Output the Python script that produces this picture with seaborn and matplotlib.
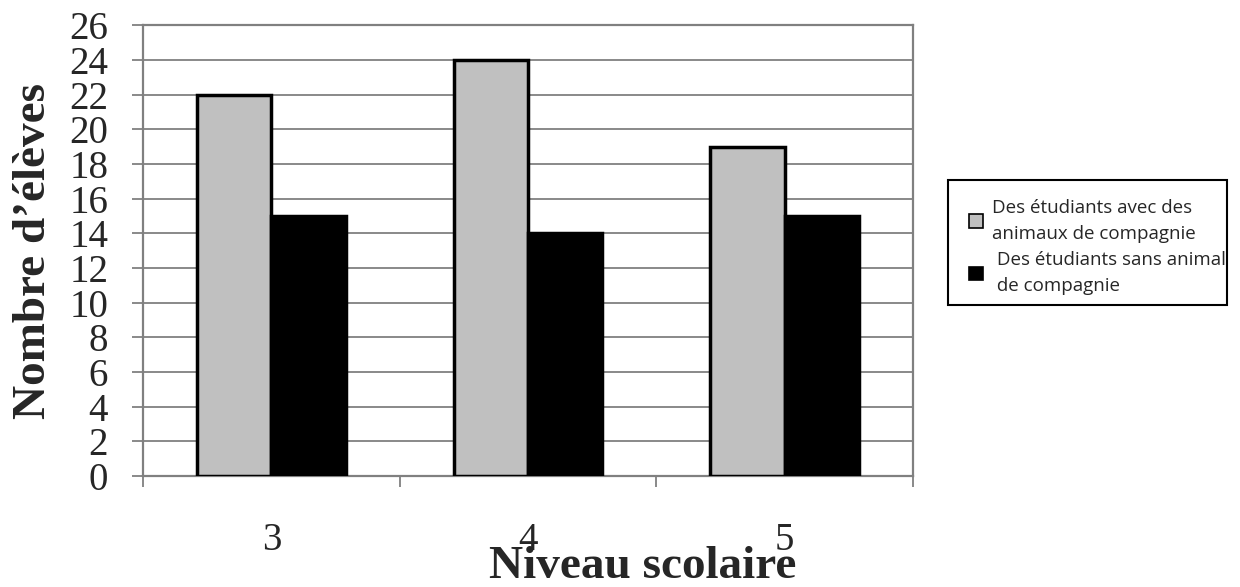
import matplotlib
matplotlib.use("Agg")
import matplotlib.pyplot as plt
import seaborn as sns
import pandas as pd
from matplotlib.patches import Patch, Rectangle

levels = ["3", "4", "5"]
with_pets = [22, 24, 19]
without_pets = [15, 14, 15]
series_names = ["Des étudiants avec des\nanimaux de compagnie",
                "Des étudiants sans animal\nde compagnie"]
legend_labels = ["Des étudiants avec des\nanimaux de compagnie",
                 " Des étudiants sans animal\n de compagnie"]
yticks = list(range(0, 27, 2))

df = pd.DataFrame({
    "Niveau": levels * 2,
    "Valeur": with_pets + without_pets,
    "Série": [series_names[0]] * 3 + [series_names[1]] * 3,
})

sns.set_theme(style="white")
plt.rcParams['font.family'] = ['Liberation Serif', 'DejaVu Serif']

W, H = 1240, 587
fig = plt.figure(figsize=(12.4, 5.87), dpi=100)
ax = fig.add_axes([0.1153, 0.1891, 0.621, 0.768])

colors = ["#C0C0C0", "#000000"]
sns.barplot(data=df, x="Niveau", y="Valeur", hue="Série", order=levels,
            hue_order=series_names, palette=colors, width=0.58, gap=0,
            edgecolor="black", linewidth=2.5, ax=ax, legend=False, zorder=3)

ax.set_ylim(0, 26)
ax.set_xlim(-0.5, 2.5)
ax.set_yticks(yticks)
ax.set_yticklabels([str(v) for v in yticks], fontsize=28)
ax.yaxis.grid(True, color="#808080", linewidth=1.3, zorder=0)
ax.set_axisbelow(True)

ax.tick_params(axis="y", direction="out", length=8, width=1.3, color="#808080",
               left=True, pad=17)
ax.tick_params(axis="x", which="major", length=0, pad=33, labelsize=28)
ax.set_xticks([-0.5, 0.5, 1.5, 2.5], minor=True)
ax.tick_params(axis="x", which="minor", direction="out", length=8, width=1.3,
               color="#808080", bottom=True)

for s in ax.spines.values():
    s.set_color("#808080")
    s.set_linewidth(1.6)
    s.set_visible(True)

ax.set_xlabel("Niveau scolaire", fontsize=34, fontweight="bold")
ax.xaxis.set_label_coords(0.649, -0.226)
ax.xaxis.label.set_va("baseline")
ax.set_ylabel("Nombre d’élèves", fontsize=34, fontweight="bold")
ax.yaxis.set_label_coords(-0.114, 0.5)

# legend frame
fig.patches.append(Rectangle((948 / W, 1 - 305 / H), (1227 - 948) / W, (305 - 180) / H,
                             transform=fig.transFigure, facecolor="white",
                             edgecolor="black", linewidth=1.5, zorder=1))

handles = [Patch(facecolor=c, edgecolor="black", linewidth=1.2) for c in colors]
leg = fig.legend(handles, legend_labels, loc="upper left",
                 bbox_to_anchor=(969 / W, 1 - 199 / H),
                 frameon=False,
                 prop={"family": "Open Sans", "size": 13.5},
                 handlelength=0.75, handleheight=0.75, handletextpad=0.45,
                 borderpad=0, labelspacing=0.45, borderaxespad=0)
leg.set_zorder(2)
for t in leg.get_texts():
    t.set_linespacing(1.55)

fig.savefig("out.png", dpi=100)
